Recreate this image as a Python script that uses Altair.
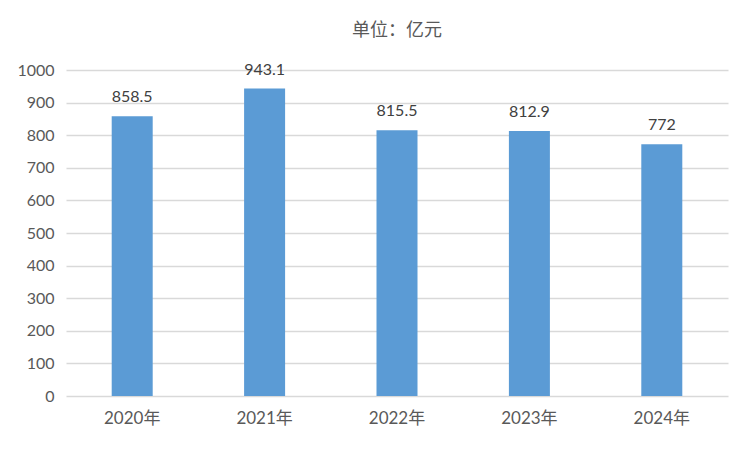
import altair as alt
import pandas as pd

years = ["2020年", "2021年", "2022年", "2023年", "2024年"]
values = [858.5, 943.1, 815.5, 812.9, 772]
labels = ["858.5", "943.1", "815.5", "812.9", "772"]
y_ticks = [0, 100, 200, 300, 400, 500, 600, 700, 800, 900, 1000]

df = pd.DataFrame({"year": years, "value": values, "label": labels})

FONT = "Lato, 'Noto Sans CJK SC', sans-serif"

base = alt.Chart(df).encode(
    x=alt.X("year:N", sort=years, title=None,
            scale=alt.Scale(paddingInner=0, paddingOuter=0),
            axis=alt.Axis(labelAngle=0, labelFont=FONT, labelFontSize=17,
                          labelColor="#595959", labelPadding=14, ticks=False,
                          domain=False, grid=False)),
    y=alt.Y("value:Q", title=None,
            scale=alt.Scale(domain=[0, 1000], nice=False),
            axis=alt.Axis(values=y_ticks, format="d", labelOverlap=False,
                          labelFont=FONT, labelFontSize=16, labelColor="#595959",
                          labelPadding=12, ticks=False, domain=False,
                          gridColor="#d9d9d9", gridWidth=1.5)),
)

bars = base.mark_bar(color="#5b9bd5", size=41)

text = base.mark_text(dy=-19, font=FONT, fontSize=16, color="#404040").encode(
    text="label:N",
)

chart = (bars + text).properties(
    width=662,
    height=326,
    background="white",
    autosize=alt.AutoSizeParams(type="none"),
    padding={"left": 58, "top": 62, "right": 16, "bottom": 40},
    title=alt.TitleParams("单位：亿元", font="'Noto Sans CJK SC', sans-serif",
                          fontSize=18, fontWeight="normal", color="#595959",
                          anchor="middle", offset=22),
).configure_view(strokeWidth=0)

chart.save("out.html", embed_options={"renderer": "svg", "actions": False})
